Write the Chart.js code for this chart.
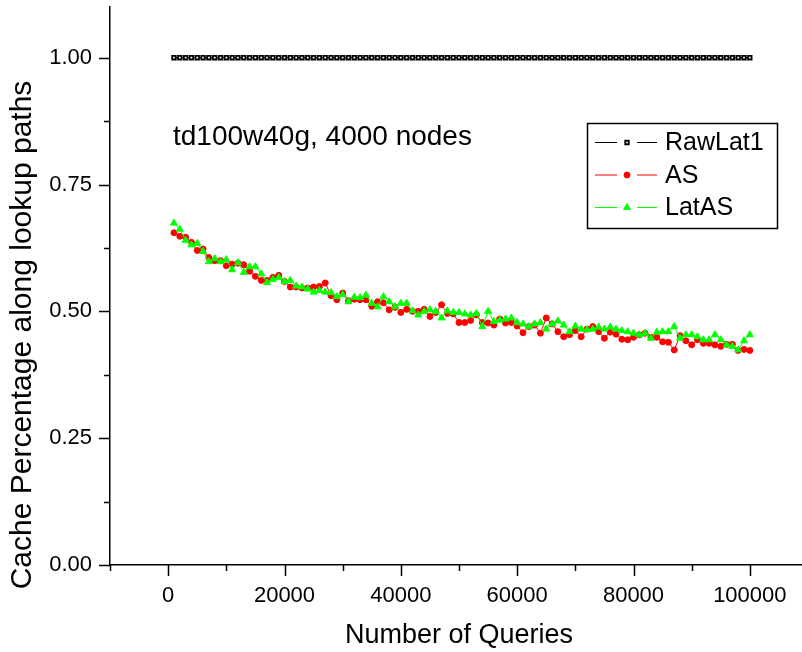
<!DOCTYPE html>
<html><head><meta charset="utf-8">
<script src="https://cdn.jsdelivr.net/npm/chart.js@4/dist/chart.umd.min.js"></script>
<style>
html,body{margin:0;padding:0;background:#fff;overflow:hidden;width:802px;height:652px}
#wrap{position:relative;width:802px;height:652px;overflow:hidden}
canvas{display:block}
</style></head>
<body><div id="wrap"><canvas id="c" width="808" height="652"></canvas></div>
<script>
const queries = [1000,2000,3000,4000,5000,6000,7000,8000,9000,10000,
11000,12000,13000,14000,15000,16000,17000,18000,19000,20000,
21000,22000,23000,24000,25000,26000,27000,28000,29000,30000,
31000,32000,33000,34000,35000,36000,37000,38000,39000,40000,
41000,42000,43000,44000,45000,46000,47000,48000,49000,50000,
51000,52000,53000,54000,55000,56000,57000,58000,59000,60000,
61000,62000,63000,64000,65000,66000,67000,68000,69000,70000,
71000,72000,73000,74000,75000,76000,77000,78000,79000,80000,
81000,82000,83000,84000,85000,86000,87000,88000,89000,90000,
91000,92000,93000,94000,95000,96000,97000,98000,99000,100000];

const rawLat1 = [1,1,1,1,1,1,1,1,1,1, 1,1,1,1,1,1,1,1,1,1,
1,1,1,1,1,1,1,1,1,1, 1,1,1,1,1,1,1,1,1,1,
1,1,1,1,1,1,1,1,1,1, 1,1,1,1,1,1,1,1,1,1,
1,1,1,1,1,1,1,1,1,1, 1,1,1,1,1,1,1,1,1,1,
1,1,1,1,1,1,1,1,1,1, 1,1,1,1,1,1,1,1,1,1];

const asValues = [0.655,0.648,0.646,0.636,0.620,0.623,0.606,0.600,0.600,0.590,
0.593,0.595,0.592,0.579,0.569,0.561,0.561,0.567,0.571,0.559,
0.548,0.548,0.546,0.546,0.548,0.549,0.556,0.531,0.523,0.536,
0.521,0.524,0.523,0.523,0.510,0.519,0.517,0.503,0.508,0.498,
0.504,0.500,0.500,0.504,0.490,0.498,0.513,0.496,0.495,0.478,
0.478,0.482,0.493,0.478,0.477,0.473,0.485,0.477,0.478,0.471,
0.458,0.470,0.473,0.457,0.487,0.475,0.460,0.450,0.454,0.462,
0.450,0.465,0.470,0.460,0.447,0.459,0.455,0.445,0.444,0.449,
0.454,0.457,0.449,0.449,0.440,0.439,0.424,0.452,0.442,0.434,
0.444,0.437,0.437,0.434,0.431,0.435,0.435,0.423,0.425,0.423];

const latAsValues = [0.674,0.662,0.640,0.631,0.634,0.618,0.598,0.604,0.598,0.602,
0.582,0.596,0.577,0.588,0.588,0.574,0.557,0.563,0.567,0.559,
0.561,0.550,0.548,0.544,0.538,0.541,0.538,0.537,0.529,0.533,
0.519,0.528,0.527,0.532,0.516,0.509,0.529,0.519,0.509,0.516,
0.516,0.501,0.493,0.500,0.503,0.500,0.487,0.501,0.498,0.498,
0.495,0.493,0.496,0.470,0.500,0.480,0.483,0.485,0.487,0.478,
0.475,0.470,0.475,0.478,0.465,0.475,0.481,0.473,0.460,0.471,
0.465,0.464,0.465,0.469,0.465,0.469,0.465,0.462,0.460,0.457,
0.454,0.457,0.447,0.459,0.460,0.460,0.470,0.447,0.454,0.454,
0.450,0.444,0.444,0.454,0.444,0.434,0.431,0.424,0.442,0.454];

const xMajorTicks = [0,20000,40000,60000,80000,100000];
const xMinorTicks = [-10000,10000,30000,50000,70000,90000,110000];
const yMajorTicks = [0,0.25,0.5,0.75,1.0];
const yMinorTicks = [0.125,0.375,0.625,0.875];
const seriesNames = ['RawLat1','AS','LatAS'];
const chartNote = 'td100w40g, 4000 nodes';
const xTitle = 'Number of Queries';
const yTitle = 'Cache Percentage along lookup paths';

const FONT = '"Liberation Sans", Arial, sans-serif';
const toPts = arr => queries.map((q,i)=>({x:q,y:arr[i]}));
const noPad = s => { s.paddingTop = 0; s.paddingBottom = 0; s.paddingLeft = 0; s.paddingRight = 0; };

const tickPlugin = {
  id:'axisTicks',
  afterDraw(chart){
    const ctx = chart.ctx, xs = chart.scales.x, ys = chart.scales.y, ca = chart.chartArea;
    ctx.save();
    ctx.strokeStyle = '#000'; ctx.lineWidth = 1.5;
    ctx.beginPath();
    xMajorTicks.forEach(v=>{const p=Math.round(xs.getPixelForValue(v))+0.5; ctx.moveTo(p,ca.bottom); ctx.lineTo(p,ca.bottom+11);});
    xMinorTicks.forEach(v=>{const p=Math.round(xs.getPixelForValue(v))+0.5; ctx.moveTo(p,ca.bottom); ctx.lineTo(p,ca.bottom+6);});
    yMajorTicks.forEach(v=>{const p=Math.round(ys.getPixelForValue(v))+0.5; ctx.moveTo(ca.left,p); ctx.lineTo(ca.left-11,p);});
    yMinorTicks.forEach(v=>{const p=Math.round(ys.getPixelForValue(v))+0.5; ctx.moveTo(ca.left,p); ctx.lineTo(ca.left-6,p);});
    ctx.stroke();

    ctx.fillStyle = '#000';
    // y axis title
    ctx.save();
    ctx.translate(23, 335);
    ctx.rotate(-Math.PI/2);
    ctx.font = '30px ' + FONT;
    ctx.textAlign = 'center'; ctx.textBaseline = 'middle';
    ctx.fillText(yTitle, 0, 0);
    ctx.restore();

    // note text
    ctx.font = '28px ' + FONT;
    ctx.textBaseline = 'middle'; ctx.textAlign = 'left';
    ctx.fillText(chartNote, 173, 137);

    // legend
    const bx = 587, by = 123, bw = 190, bh = 105;
    ctx.lineWidth = 1.5; ctx.strokeStyle = '#000';
    ctx.strokeRect(bx+0.5, by+0.5, bw, bh);
    const rows = [142.5, 175, 207.5];
    chart.data.datasets.slice().sort((a,b)=>b.order-a.order).forEach((ds,i)=>{
      const y = rows[i];
      ctx.strokeStyle = ds.borderColor; ctx.lineWidth = 1.2;
      ctx.beginPath();
      ctx.moveTo(595,y); ctx.lineTo(617,y);
      ctx.moveTo(637,y); ctx.lineTo(657,y);
      ctx.stroke();
      ctx.save();
      ctx.fillStyle = ds.pointBackgroundColor; ctx.strokeStyle = ds.pointBorderColor; ctx.lineWidth = ds.pointBorderWidth;
      Chart.helpers.drawPoint(ctx, {pointStyle: ds.pointStyle, radius: ds.pointRadius, borderWidth: ds.pointBorderWidth, rotation:0}, 627, y);
      ctx.restore();
      ctx.fillStyle = '#000';
      ctx.font = '25px ' + FONT;
      ctx.fillText(ds.label, 665, y+1);
    });
    ctx.restore();
  }
};

new Chart(document.getElementById('c'), {
  type:'line',
  data:{datasets:[
    {label:seriesNames[0], data:toPts(rawLat1), order:3, borderColor:'#000', borderWidth:1,
     pointStyle:'rect', pointRadius:2.5, pointBorderWidth:1.8, pointBackgroundColor:'#fff', pointBorderColor:'#000'},
    {label:seriesNames[1], data:toPts(asValues), order:2, borderColor:'#ff0000', borderWidth:1,
     pointStyle:'circle', pointRadius:3, pointBorderWidth:1, pointBackgroundColor:'#ff0000', pointBorderColor:'#ff0000'},
    {label:seriesNames[2], data:toPts(latAsValues), order:1, borderColor:'#00ff00', borderWidth:1,
     pointStyle:'triangle', pointRadius:4, pointBorderWidth:1, pointBackgroundColor:'#00ff00', pointBorderColor:'#00ff00'}
  ]},
  options:{
    responsive:false, animation:false, devicePixelRatio:1,
    layout:{autoPadding:false, padding:{top:7,left:0,right:0,bottom:0}},
    plugins:{legend:{display:false}, tooltip:{enabled:false}},
    elements:{line:{tension:0}},
    scales:{
      x:{type:'linear', min:-10000, max:110000,
        grid:{display:false, drawTicks:false},
        border:{display:true, color:'#000', width:1.5},
        ticks:{stepSize:10000, autoSkip:false, maxRotation:0, padding:18, color:'#000',
          font:{family:FONT, size:22},
          callback:v=> xMajorTicks.includes(v) ? String(v) : ''},
        title:{display:true, text:xTitle, color:'#000', font:{family:FONT, size:27}, padding:{top:0,bottom:0}},
        afterFit:s=>{s.height=87; noPad(s);}
      },
      y:{type:'linear', min:0, max:1.1,
        grid:{display:false, drawTicks:false},
        border:{display:true, color:'#000', width:1.5},
        ticks:{stepSize:0.125, autoSkip:false, padding:18, color:'#000',
          font:{family:FONT, size:22},
          callback:v=> yMajorTicks.includes(v) ? v.toFixed(2) : ''},
        title:{display:false, text:yTitle},
        afterFit:s=>{s.width=110; noPad(s);}
      }
    }
  },
  plugins:[tickPlugin]
});
</script></body></html>
